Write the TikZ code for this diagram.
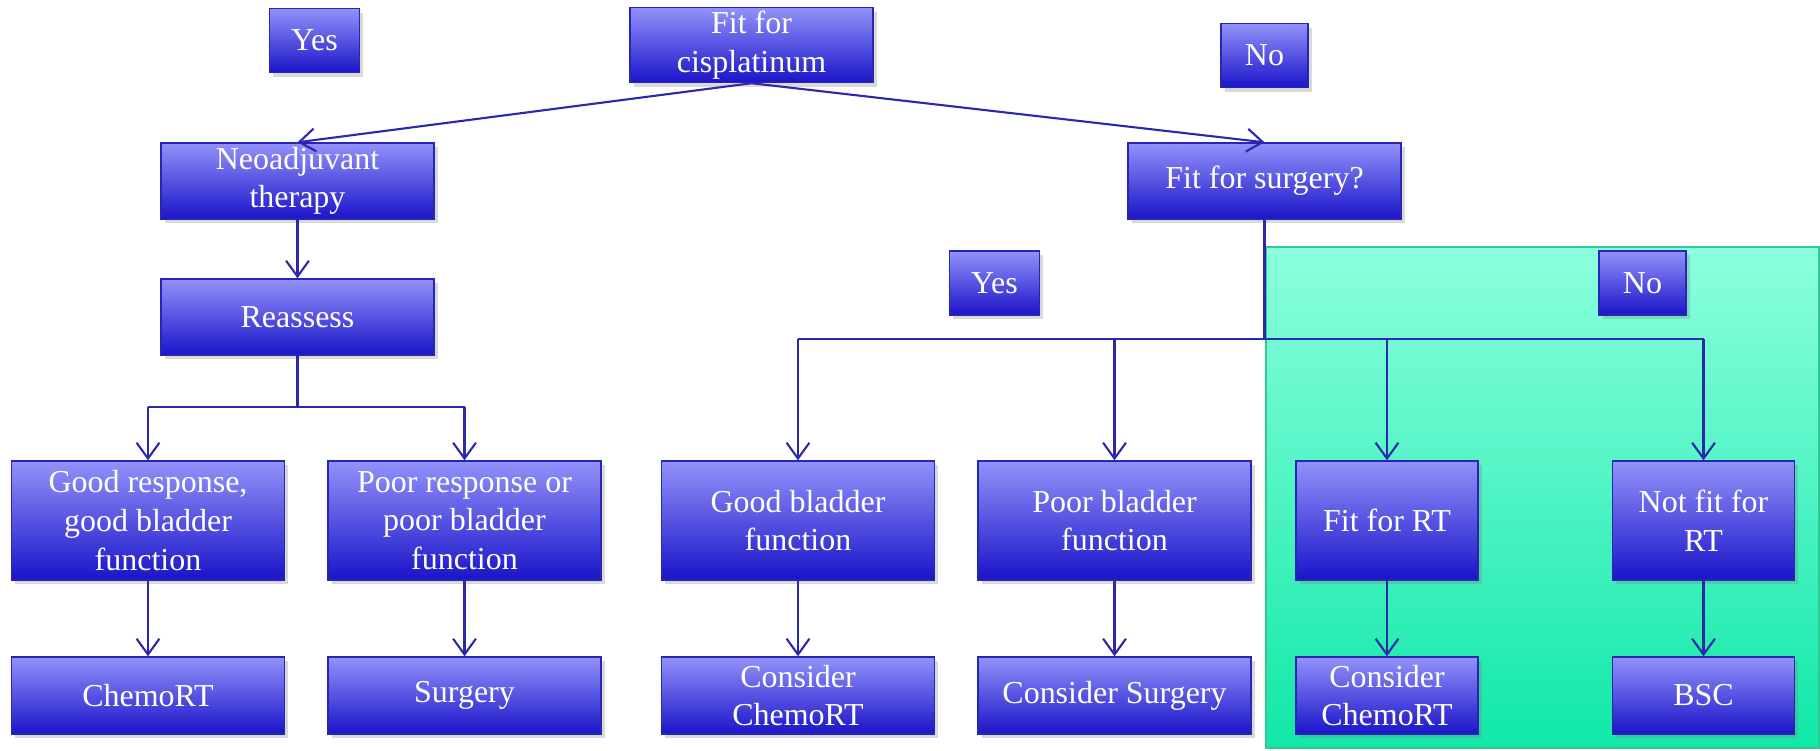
\documentclass[tikz,border=0pt]{standalone}
\usepackage{fontspec}
\setmainfont{Liberation Serif}
\usepackage{tikz}
\usetikzlibrary{arrows.meta, shadows}

\definecolor{boxtop}{RGB}{146,146,250}
\definecolor{boxbot}{RGB}{26,20,200}
\definecolor{boxline}{RGB}{40,36,180}
\definecolor{linkblue}{RGB}{44,40,172}
\definecolor{greentop}{RGB}{140,255,222}
\definecolor{greenbot}{RGB}{16,232,168}
\definecolor{greenline}{RGB}{48,200,150}

\begin{document}
\begin{tikzpicture}[
		box/.style={draw=boxline, thick, top color=boxtop, bottom color=boxbot,
			text=white, align=center, inner sep=2pt,
			font=\rmfamily\fontsize{18.2}{22}\selectfont,
			drop shadow={shadow xshift=2pt, shadow yshift=-2.5pt, opacity=0.3}},
		wide/.style={box, minimum width=5.46cm, minimum height=1.52cm},
		narrow/.style={box, minimum width=3.64cm},
		tall/.style={minimum height=2.38cm},
		low/.style={minimum height=1.54cm},
		tag/.style={box, minimum width=1.8cm, minimum height=1.28cm},
		line/.style={draw=linkblue, line width=1.2pt},
		arr/.style={line, -{Straight Barb[length=9pt, width=13pt]}}
	]
			\useasboundingbox (0, 0) rectangle (36.4, 15);

			\draw [greenline, thick, top color=greentop, bottom color=greenbot]
			(25.32, 0.04) rectangle (36.38, 10.06);

			\node [tag] (yesTop) at (6.29, 14.19) {Yes};
			\node [box, minimum width=4.86cm, minimum height=1.48cm] (cis) at (15.03, 14.1) {Fit for\\cisplatinum};
			\node [tag, minimum width=1.74cm] (noTop) at (25.29, 13.89) {No};

			\node [wide] (neo) at (5.95, 11.38) {Neoadjuvant\\therapy};
			\node [wide] (reas) at (5.95, 8.66) {Reassess};
			\node [wide] (surg) at (25.29, 11.38) {Fit for surgery?};

			\node [tag] (yesMid) at (19.89, 9.34) {Yes};
			\node [tag, minimum width=1.74cm] (noMid) at (32.85, 9.34) {No};

			\node [wide, tall] (goodResp) at (2.96, 4.59) {Good response,\\good bladder\\function};
			\node [wide, tall] (poorResp) at (9.29, 4.59) {Poor response or\\poor bladder\\function};
			\node [wide, tall] (goodBl) at (15.96, 4.59) {Good bladder\\function};
			\node [wide, tall] (poorBl) at (22.29, 4.59) {Poor bladder\\function};
			\node [narrow, tall] (fitRT) at (27.74, 4.59) {Fit for RT};
			\node [narrow, tall] (notRT) at (34.07, 4.59) {Not fit for\\RT};

			\node [wide, low] (chemo) at (2.96, 1.09) {ChemoRT};
			\node [wide, low] (surgery) at (9.29, 1.09) {Surgery};
			\node [wide, low] (consChemo) at (15.96, 1.09) {Consider\\ChemoRT};
			\node [wide, low] (consSurg) at (22.29, 1.09) {Consider Surgery};
			\node [narrow, low] (consChemoRT) at (27.74, 1.09) {Consider\\ChemoRT};
			\node [narrow, low] (bsc) at (34.07, 1.09) {BSC};

			\coordinate (busL) at (5.95, 6.86);
			\coordinate (busR) at (25.29, 8.22);

			\draw [arr] (cis.south) -- (neo.north);
			\draw [arr] (cis.south) -- (surg.north);
			\draw [arr] (neo.south) -- (reas.north);

			\draw [line] (reas.south) -- (busL);
			\draw [line] (goodResp.north |- busL) -- (poorResp.north |- busL);
			\foreach \n in {goodResp, poorResp}
				\draw [arr] (\n.north |- busL) -- (\n.north);

			\draw [line] (surg.south) -- (busR);
			\draw [line] (goodBl.north |- busR) -- (notRT.north |- busR);
			\foreach \n in {goodBl, poorBl, fitRT, notRT}
				\draw [arr] (\n.north |- busR) -- (\n.north);

			\draw [arr] (goodResp) -- (chemo);
			\draw [arr] (poorResp) -- (surgery);
			\draw [arr] (goodBl) -- (consChemo);
			\draw [arr] (poorBl) -- (consSurg);
			\draw [arr] (fitRT) -- (consChemoRT);
			\draw [arr] (notRT) -- (bsc);
		\end{tikzpicture}
\end{document}
